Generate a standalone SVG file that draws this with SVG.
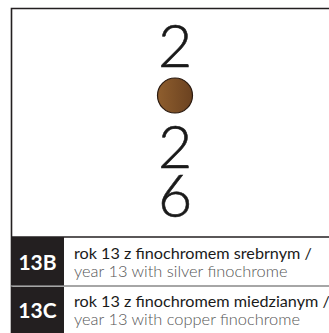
<svg xmlns="http://www.w3.org/2000/svg" width="329" height="333" viewBox="0 0 329 333">
<defs>
<linearGradient id="copper" x1="0" y1="0" x2="1" y2="0">
<stop offset="0" stop-color="#8f5e2e"/>
<stop offset="1" stop-color="#6b4220"/>
</linearGradient>
<style>
.digit{font-family:Lato,"Liberation Sans",sans-serif;font-weight:300;font-size:59px;fill:#1a1a1a;stroke:#1a1a1a;stroke-width:0.6;text-anchor:middle}
.code{font-family:Lato,"Liberation Sans",sans-serif;font-weight:700;font-size:21px;fill:#ffffff;text-anchor:middle}
.pl{font-family:Lato,"Liberation Sans",sans-serif;font-weight:400;font-size:16.2px;fill:#1a1a1a}
.en{font-family:Lato,"Liberation Sans",sans-serif;font-weight:300;font-size:16.4px;fill:#555555}
.line{stroke:#231f20;stroke-width:1.6;fill:none}
.div{stroke:#888888;stroke-width:1.4;fill:none}
</style>
</defs>
<rect width="329" height="333" fill="#ffffff"/>
<g id="coin-panel">
<path class="line" d="M11.5,333 V8.5 H329"/>
<line class="line" x1="11" y1="237" x2="329" y2="237"/>
<text class="digit" x="175" y="67">2</text>
<circle cx="175" cy="95.5" r="17.5" fill="url(#copper)" stroke="#2a1a10" stroke-width="1.2"/>
<text class="digit" x="175" y="168">2</text>
<text class="digit" x="175" y="217">6</text>
</g>
<g id="row-13B">
<rect x="11" y="237" width="53" height="49" fill="#231f20"/>
<text class="code" x="37.5" y="270">13B</text>
<text class="pl" x="74" y="259">rok 13 z finochromem srebrnym /</text>
<text class="en" x="74" y="277">year 13 with silver finochrome</text>
</g>
<line class="div" x1="11" y1="286" x2="329" y2="286"/>
<g id="row-13C">
<rect x="11" y="287" width="53" height="46" fill="#231f20"/>
<text class="code" x="37.5" y="318">13C</text>
<text class="pl" x="74" y="307">rok 13 z finochromem miedzianym /</text>
<text class="en" x="74" y="325">year 13 with copper finochrome</text>
</g>
</svg>
